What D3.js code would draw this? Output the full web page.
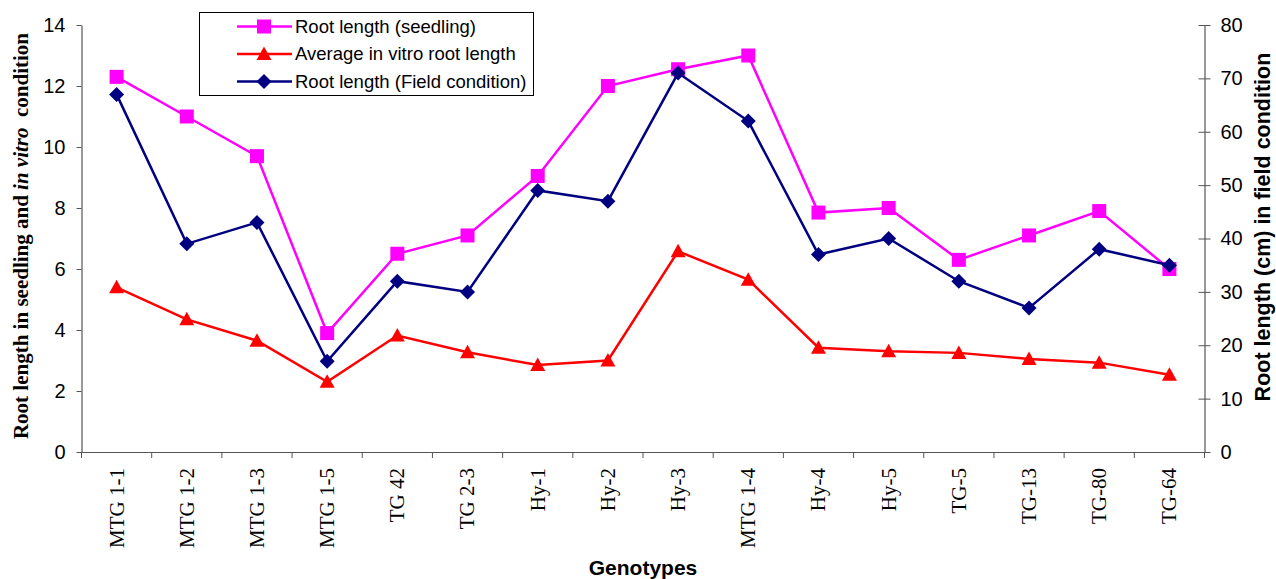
<!DOCTYPE html>
<html>
<head>
<meta charset="utf-8">
<script src="https://cdn.jsdelivr.net/npm/d3@7"></script>
<style>
  body { margin: 0; background: #fff; }
  svg { display: block; }
</style>
</head>
<body>
<div id="container"></div>
<script>
const width = 1276, height = 579;

// --- Data ---
const genotypes = ["MTG 1-1", "MTG 1-2", "MTG 1-3", "MTG 1-5", "TG 42", "TG 2-3", "Hy-1", "Hy-2",
  "Hy-3", "MTG 1-4", "Hy-4", "Hy-5", "TG-5", "TG-13", "TG-80", "TG-64"];
const seedling = [12.3, 11.0, 9.7, 3.9, 6.5, 7.1, 9.05, 12.0, 12.55, 13.0, 7.85, 8.0, 6.3, 7.1, 7.9, 6.0];
const invitro = [5.4, 4.35, 3.65, 2.3, 3.82, 3.27, 2.85, 3.0, 6.58, 5.65, 3.42, 3.3, 3.25, 3.05, 2.93, 2.53];
const field = [67, 39, 43, 17, 32, 30, 49, 47, 71, 62, 37, 40, 32, 27, 38, 35];
const leftTicks = [0, 2, 4, 6, 8, 10, 12, 14];
const rightTicks = [0, 10, 20, 30, 40, 50, 60, 70, 80];

const svg = d3.select("#container").append("svg")
  .attr("width", width).attr("height", height);

// --- Plot frame ---
const x0 = 81.5, x1 = 1204.5, yTop = 25, yBot = 452;
const x = d3.scaleBand().domain(genotypes).range([x0, x1]);
const yL = d3.scaleLinear().domain([0, 14]).range([yBot, yTop]);
const yR = d3.scaleLinear().domain([0, 80]).range([yBot, yTop]);

const axisCol = "#555";
const sans = "'Liberation Sans', Arial, sans-serif";
const serif = "'Liberation Serif', 'Times New Roman', serif";

// left axis
const axL = svg.append("g").attr("transform", `translate(${x0},0)`)
  .call(d3.axisLeft(yL).tickValues(leftTicks).tickSize(5).tickPadding(11).tickSizeOuter(0));
// right axis (ticks cross the line)
const axR = svg.append("g").attr("transform", `translate(${x1},0)`)
  .call(d3.axisRight(yR).tickValues(rightTicks).tickSize(6).tickPadding(10).tickSizeOuter(0));
axR.selectAll(".tick line").attr("x1", -6);
// bottom axis: labels at band centres, ticks at band boundaries
const axB = svg.append("g").attr("transform", `translate(0,${yBot})`)
  .call(d3.axisBottom(x).tickSize(0).tickSizeOuter(0));
axB.selectAll(".tick text")
  .attr("transform", "rotate(-90)")
  .attr("text-anchor", "end")
  .attr("x", -16).attr("y", 0).attr("dy", "0.33em")
  .style("font-family", serif).style("font-size", "21px");
const bounds = genotypes.map(g => x(g)).concat([x1]);
axB.selectAll(".bound").data(bounds).join("line")
  .attr("x1", d => d).attr("x2", d => d).attr("y1", 0).attr("y2", 6)
  .attr("stroke", axisCol);

for (const ax of [axL, axR, axB]) {
  ax.select(".domain").attr("stroke", axisCol).attr("stroke-width", 1.2);
  ax.selectAll(".tick line").attr("stroke", axisCol);
  ax.selectAll("text").attr("fill", "#000");
}
for (const ax of [axL, axR]) {
  ax.selectAll("text").style("font-family", sans).style("font-size", "20px");
}

// --- Series ---
const square = "M-7,-7H7V7H-7Z";
const triangle = "M0,-7.5L7.5,6L-7.5,6Z";
const diamond = "M0,-7.5L7.5,0L0,7.5L-7.5,0Z";
const cx = i => x(genotypes[i]) + x.bandwidth() / 2;
const series = [
  { name: "Root length (seedling)", vals: seedling, y: yL, color: "#FF00FF", mark: square },
  { name: "Average in vitro root length", vals: invitro, y: yL, color: "#FF0000", mark: triangle },
  { name: "Root length (Field condition)", vals: field, y: yR, color: "#000080", mark: diamond }
];

for (const s of series) {
  const line = d3.line().x((d, i) => cx(i)).y(d => s.y(d));
  svg.append("path").attr("d", line(s.vals))
    .attr("fill", "none").attr("stroke", s.color).attr("stroke-width", 2.5);
  svg.append("g").selectAll("path").data(s.vals).join("path")
    .attr("d", s.mark)
    .attr("transform", (d, i) => `translate(${cx(i)},${s.y(d)})`)
    .attr("fill", s.color);
}

// --- Legend ---
const lg = svg.append("g");
lg.append("rect").attr("x", 199.5).attr("y", 12.5).attr("width", 334).attr("height", 83)
  .attr("fill", "#fff").attr("stroke", "#000").attr("stroke-width", 1);
series.forEach((s, i) => {
  const ly = 26.5 + i * 27.5;
  lg.append("line").attr("x1", 237).attr("x2", 292).attr("y1", ly).attr("y2", ly)
    .attr("stroke", s.color).attr("stroke-width", 2.5);
  lg.append("path").attr("d", s.mark)
    .attr("transform", `translate(264,${ly})`).attr("fill", s.color);
  lg.append("text").attr("x", 295).attr("y", ly).attr("dy", "0.35em")
    .style("font-family", sans).style("font-size", "18.5px").attr("fill", "#000")
    .text(s.name);
});

// --- Axis titles ---
const tL = svg.append("text")
  .attr("transform", "translate(28,236) rotate(-90)")
  .attr("text-anchor", "middle")
  .style("font-family", serif).style("font-size", "21px").style("font-weight", "bold");
tL.append("tspan").text("Root length in seedling and ");
tL.append("tspan").style("font-style", "italic").text("in vitro");
tL.append("tspan").text("\u00a0 condition");

svg.append("text")
  .attr("transform", "translate(1270,227) rotate(-90)")
  .attr("text-anchor", "middle")
  .style("font-family", sans).style("font-size", "21.5px").style("font-weight", "bold")
  .text("Root length (cm) in field condition");

svg.append("text")
  .attr("x", 643).attr("y", 575)
  .attr("text-anchor", "middle")
  .style("font-family", sans).style("font-size", "21px").style("font-weight", "bold")
  .text("Genotypes");
</script>
</body>
</html>
